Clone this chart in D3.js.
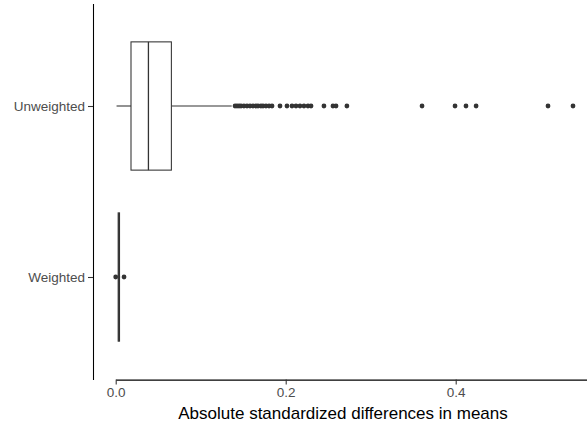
<!DOCTYPE html>
<html>
<head>
<meta charset="utf-8">
<script src="https://cdn.jsdelivr.net/npm/d3@7"></script>
<style>
  body { margin: 0; background: #fff; }
  svg { display: block; font-family: "Liberation Sans", Arial, sans-serif; }
</style>
</head>
<body>
<div id="wrapper"></div>
<script>
// groups shown on the y axis
const groups = ['Unweighted', 'Weighted'];

// box stats per group
const whiskerLow = [0.001, 0.0025];
const q1 = [0.018, 0.0029];
const median = [0.0385, 0.0036];
const q3 = [0.0655, 0.0045];
const whiskerHigh = [0.1365, 0.0052];

// outliers per group
const unweightedOutliers = [
  0.1404, 0.1427, 0.1451, 0.1474, 0.1509, 0.1545, 0.158, 0.1615, 0.165,
  0.1674, 0.1709, 0.1733, 0.1768, 0.1804, 0.1839, 0.1933, 0.2015, 0.2074,
  0.2121, 0.2168, 0.2215, 0.2262, 0.2298, 0.245, 0.2556, 0.2592, 0.272,
  0.3604, 0.3992, 0.4121, 0.424, 0.5086, 0.538,
];
const weightedOutliers = [0.0, 0.0098];

const xTicks = [0, 0.2, 0.4];

function drawChart() {
  let dimensions = {
    width: 587,
    height: 423,
    margin: { top: 3.4, right: 0, bottom: 43.4, left: 93 },
  };
  dimensions.boundedWidth =
    dimensions.width - dimensions.margin.left - dimensions.margin.right;
  dimensions.boundedHeight =
    dimensions.height - dimensions.margin.top - dimensions.margin.bottom;

  const wrapper = d3
    .select('#wrapper')
    .append('svg')
    .attr('width', dimensions.width)
    .attr('height', dimensions.height);

  const bounds = wrapper
    .append('g')
    .attr('transform', `translate(${dimensions.margin.left}, ${dimensions.margin.top})`);

  // x: 0 sits 22.7px into the panel, 850px per unit; panel runs off the right edge
  const pxPerUnit = 850;
  const zeroAt = 22.7;
  const xScale = d3
    .scaleLinear()
    .domain([0, (dimensions.boundedWidth - zeroAt) / pxPerUnit])
    .range([zeroAt, dimensions.boundedWidth]);

  const yScale = d3
    .scalePoint()
    .domain(groups)
    .range([0, dimensions.boundedHeight])
    .padding(0.6);

  const boxHeight = yScale.step() * 0.75;
  const ink = '#333333';

  const stats = groups.map((g, i) => ({
    group: g,
    low: whiskerLow[i],
    q1: q1[i],
    median: median[i],
    q3: q3[i],
    high: whiskerHigh[i],
    outliers: i === 0 ? unweightedOutliers : weightedOutliers,
  }));

  const boxes = bounds
    .selectAll('.box')
    .data(stats)
    .enter()
    .append('g')
    .attr('class', 'box')
    .attr('transform', (d) => `translate(0, ${yScale(d.group)})`);

  // whiskers
  boxes.append('line')
    .attr('x1', (d) => xScale(d.low))
    .attr('x2', (d) => xScale(d.q1))
    .attr('stroke', ink)
    .attr('stroke-width', 1.07);
  boxes.append('line')
    .attr('x1', (d) => xScale(d.q3))
    .attr('x2', (d) => xScale(d.high))
    .attr('stroke', ink)
    .attr('stroke-width', 1.07);

  boxes.append('rect')
    .attr('x', (d) => xScale(d.q1))
    .attr('y', -boxHeight / 2)
    .attr('width', (d) => xScale(d.q3) - xScale(d.q1))
    .attr('height', boxHeight)
    .attr('fill', '#fff')
    .attr('stroke', ink)
    .attr('stroke-width', 1.07);

  boxes.append('line')
    .attr('x1', (d) => xScale(d.median))
    .attr('x2', (d) => xScale(d.median))
    .attr('y1', -boxHeight / 2)
    .attr('y2', boxHeight / 2)
    .attr('stroke', ink)
    .attr('stroke-width', 1.3);

  boxes.selectAll('circle')
    .data((d) => d.outliers)
    .enter()
    .append('circle')
    .attr('cx', (d) => xScale(d))
    .attr('cy', 0)
    .attr('r', 2.4)
    .attr('fill', ink);

  // axes
  const xAxisGenerator = d3.axisBottom(xScale)
    .tickValues(xTicks)
    .tickFormat(d3.format('.1f'))
    .tickSize(5)
    .tickSizeOuter(0)
    .tickPadding(3);
  const xAxis = bounds.append('g')
    .attr('transform', `translate(0, ${dimensions.boundedHeight})`)
    .call(xAxisGenerator);

  const yAxisGenerator = d3.axisLeft(yScale)
    .tickSize(5)
    .tickSizeOuter(0)
    .tickPadding(3);
  const yAxis = bounds.append('g').call(yAxisGenerator);

  [xAxis, yAxis].forEach((axis) => {
    axis.select('.domain').attr('stroke', '#000').attr('stroke-width', 1.07);
    axis.selectAll('.tick line').attr('stroke', ink).attr('stroke-width', 1.07);
    axis.selectAll('.tick text')
      .attr('fill', '#4d4d4d')
      .style('font-size', '13.5px')
      .style('font-family', '"Liberation Sans", Arial, sans-serif');
  });

  wrapper.append('text')
    .attr('x', dimensions.margin.left + dimensions.boundedWidth / 2 + 3)
    .attr('y', 419)
    .attr('text-anchor', 'middle')
    .style('font-size', '17px')
    .style('fill', '#000')
    .text('Absolute standardized differences in means');
}

drawChart();
</script>
</body>
</html>
